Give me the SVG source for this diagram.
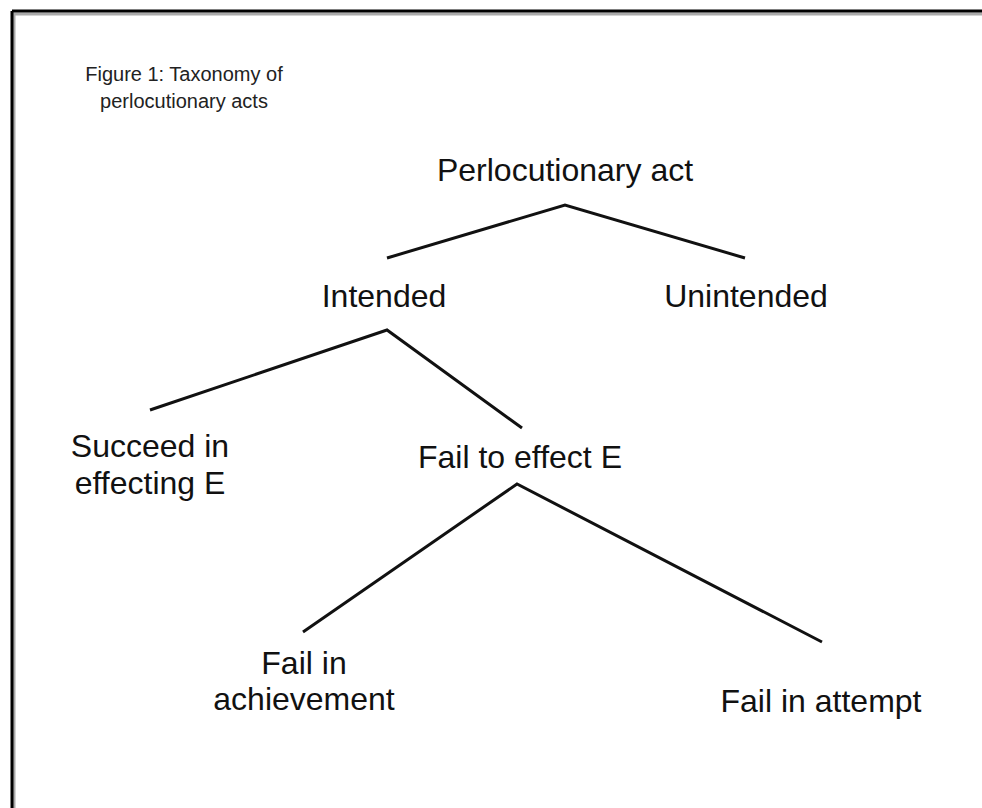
<svg xmlns="http://www.w3.org/2000/svg" width="982" height="808" viewBox="0 0 982 808">
<style>
.t{font-family:"Liberation Sans",Arial,sans-serif;font-size:32px;fill:#111;text-anchor:middle}
.s{font-family:"Liberation Sans",Arial,sans-serif;font-size:20px;fill:#222;text-anchor:middle}
.c{fill:none;stroke:#111;stroke-width:3;stroke-linecap:butt;stroke-linejoin:miter}
</style>
<rect width="982" height="808" fill="#fff"/>
<g id="frame">
<path d="M13 14H982M14 13V808" fill="none" stroke="#aaa" stroke-width="3"/>
<path d="M12 11H982M12 11V808" fill="none" stroke="#000" stroke-width="3"/>
</g>
<g id="caption">
<text class="s" x="184" y="81">Figure 1: Taxonomy of</text>
<text class="s" x="184" y="108">perlocutionary acts</text>
</g>
<g id="connectors">
<polyline class="c" points="387,258 565,205 745,258"/>
<polyline class="c" points="150,410 387,330 522,428"/>
<polyline class="c" points="303,632 517,484 822,642"/>
</g>
<g id="n-perlocutionary"><text class="t" x="565" y="181">Perlocutionary act</text></g>
<g id="n-intended"><text class="t" x="384" y="307">Intended</text></g>
<g id="n-unintended"><text class="t" x="746" y="307">Unintended</text></g>
<g id="n-succeed"><text class="t" x="150" y="457">Succeed in</text><text class="t" x="150" y="494">effecting E</text></g>
<g id="n-fail-effect"><text class="t" x="520" y="468">Fail to effect E</text></g>
<g id="n-fail-achievement"><text class="t" x="304" y="674">Fail in</text><text class="t" x="304" y="710">achievement</text></g>
<g id="n-fail-attempt"><text class="t" x="821" y="712">Fail in attempt</text></g>
</svg>
